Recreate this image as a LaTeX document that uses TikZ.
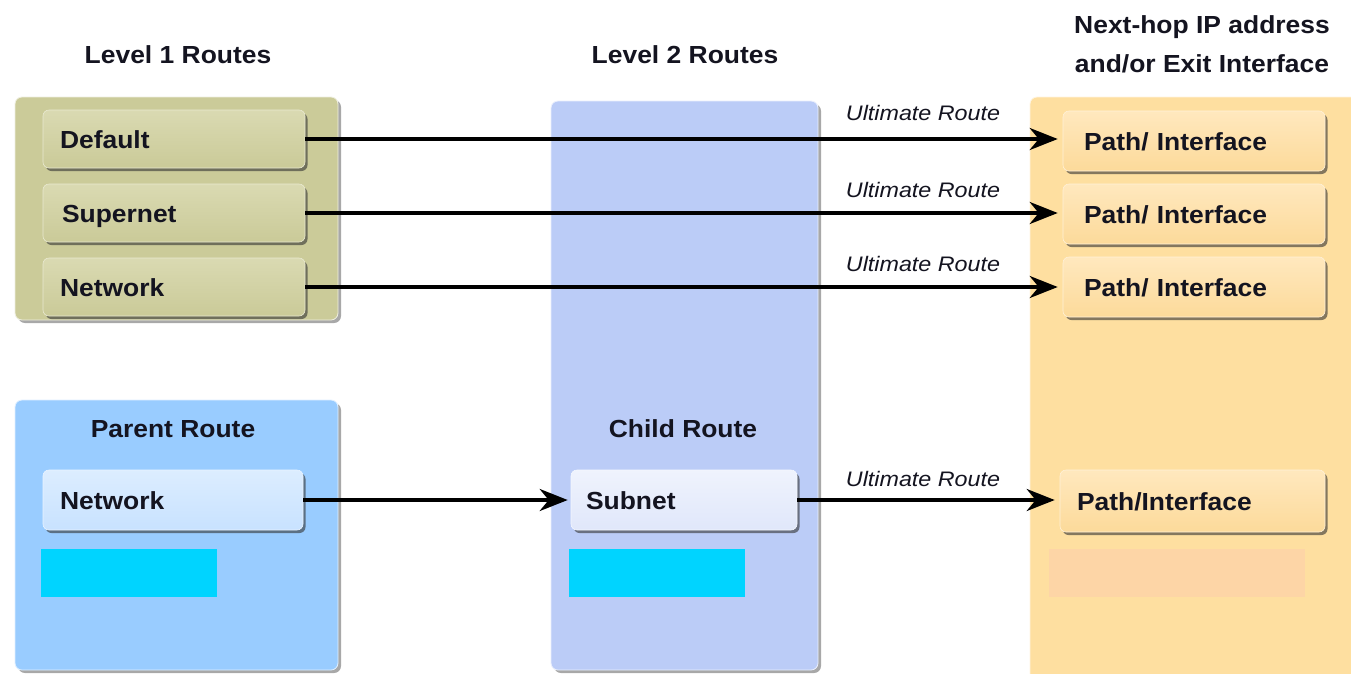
\documentclass[tikz,border=0pt]{standalone}
\usepackage{fontspec}
\setmainfont{Liberation Sans}
\newfontfamily\lblfont[FakeStretch=1.07]{Liberation Sans}
\newfontfamily\ulfont[FakeStretch=1.11]{Liberation Sans}
\usetikzlibrary{arrows.meta,shadows}

% palette
\definecolor{olivebg}{HTML}{CBCB99}
\definecolor{olivetop}{HTML}{DADAB2}
\definecolor{olivebot}{HTML}{CACA98}
\definecolor{parentbg}{HTML}{99CCFF}
\definecolor{parenttop}{HTML}{DCEDFF}
\definecolor{parentbot}{HTML}{C8E2FF}
\definecolor{lavbg}{HTML}{BBCCF7}
\definecolor{subtop}{HTML}{EFF3FD}
\definecolor{subbot}{HTML}{E0E7FA}
\definecolor{orangebg}{HTML}{FEDFA0}
\definecolor{pathtop}{HTML}{FFE8BE}
\definecolor{pathbot}{HTML}{FCDA9A}
\definecolor{cyanblk}{HTML}{00D4FF}
\definecolor{peachblk}{HTML}{FDD5A6}
\definecolor{ink}{HTML}{141420}

\tikzset{
  panel/.style={rounded corners=7pt, draw=white!70!#1, line width=0.8pt, fill=#1,
    drop shadow={shadow xshift=3pt, shadow yshift=-3pt, opacity=.45, fill=black!75}},
  btn/.style n args={4}{rectangle, rounded corners=6pt, top color=#1, bottom color=#2,
    draw=white!40!#1, line width=0.6pt,
    drop shadow={shadow xshift=2.5pt, shadow yshift=-3pt, opacity=.6, fill=black!80},
    minimum height=#4, inner ysep=0pt, inner xsep=#3,
    text height=18pt, text depth=0pt, align=left,
    font=\lblfont\bfseries\fontsize{24.7}{28}\selectfont, text=ink},
  title/.style={font=\lblfont\bfseries\fontsize{24.7}{28}\selectfont, text=ink, anchor=base, inner sep=0pt},
  ultlbl/.style={font=\ulfont\itshape\fontsize{21}{24}\selectfont, text=ink, anchor=base, inner sep=0pt},
  arr/.style={line width=3.8pt, black, shorten >=5pt,
    -{Stealth[length=28pt, width=22pt, inset=9pt]}},
}

\begin{document}
\begin{tikzpicture}[x=1pt, y=-1pt]
\useasboundingbox (0,0) rectangle (1351,673);
\fill[white] (0,0) rectangle (1351,673);

% column titles
\node[title] (t1) at (178,63) {Level 1 Routes};
\node[title] (t2) at (685,63) {Level 2 Routes};
\node[title] (t3a) at (1202,33) {Next-hop IP address};
\node[title] (t3b) at (1202,72) {and/or Exit Interface};

% background panels
\begin{scope}
  \clip (0,0) rectangle (1351,673);
  \path[panel=olivebg]   (15,97)   rectangle (338,320);
  \path[panel=parentbg]  (15,400)  rectangle (338,670);
  \path[panel=lavbg]     (551,101) rectangle (818,670);
  \path[panel=orangebg]  (1030,97) rectangle (1375,690);
\end{scope}

% level 1 routes
\node[btn={olivetop}{olivebot}{17pt}{58pt}, text width=228pt] (def) at (174,139) {Default};
\node[btn={olivetop}{olivebot}{19pt}{58pt}, text width=224pt] (sup) at (174,213) {Supernet};
\node[btn={olivetop}{olivebot}{17pt}{58pt}, text width=228pt] (net) at (174,287) {Network};

% parent / child routes
\node[title] (par) at (173,437) {Parent Route};
\node[title] (chi) at (683,437) {Child Route};
\node[btn={parenttop}{parentbot}{17pt}{60pt}, text width=226pt] (pnet) at (173,500) {Network};
\node[btn={subtop}{subbot}{15pt}{60pt}, text width=196pt] (sub) at (684,500) {Subnet};

% exit paths
\node[btn={pathtop}{pathbot}{21pt}{60pt}, text width=220pt] (p1) at (1194,141) {Path/ Interface};
\node[btn={pathtop}{pathbot}{21pt}{60pt}, text width=220pt] (p2) at (1194,214) {Path/ Interface};
\node[btn={pathtop}{pathbot}{21pt}{60pt}, text width=220pt] (p3) at (1194,287) {Path/ Interface};
\node[btn={pathtop}{pathbot}{17pt}{62pt}, text width=231pt] (p4) at (1192.5,501) {Path/Interface};

% plain colour blocks
\fill[cyanblk]  (41,549)   rectangle (217,597);
\fill[cyanblk]  (569,549)  rectangle (745,597);
\fill[peachblk] (1049,549) rectangle (1305,597);

% connectors
\draw[arr] (def.east) -- (def.east -| p1.west);
\draw[arr] (sup.east) -- (sup.east -| p2.west);
\draw[arr] (net.east) -- (net.east -| p3.west);
\draw[arr, shorten >=3pt] (pnet.east) -- (pnet.east -| sub.west);
\draw[arr] (sub.east) -- (sub.east -| p4.west);

% connector labels
\node[ultlbl] (u1) at (923,120) {Ultimate Route};
\node[ultlbl] (u2) at (923,197) {Ultimate Route};
\node[ultlbl] (u3) at (923,271) {Ultimate Route};
\node[ultlbl] (u4) at (923,486) {Ultimate Route};
\end{tikzpicture}
\end{document}
